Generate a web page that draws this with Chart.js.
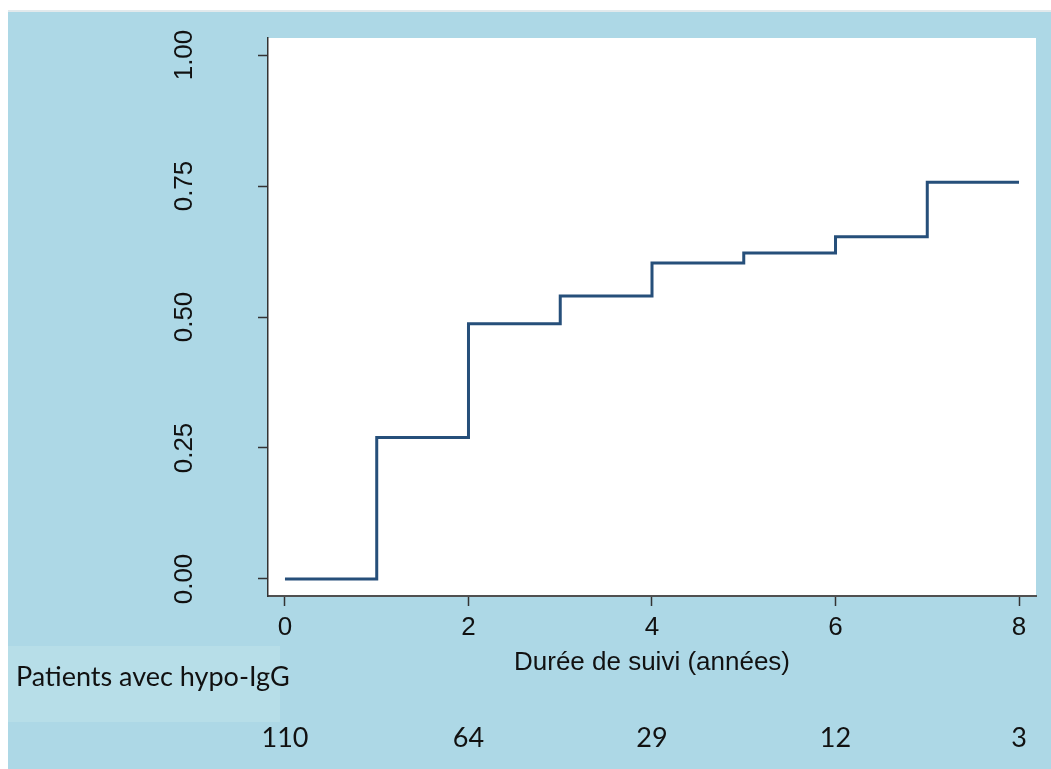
<!DOCTYPE html>
<html>
<head>
<meta charset="utf-8">
<script src="https://cdn.jsdelivr.net/npm/chart.js@4.4.1/dist/chart.umd.min.js"></script>
<style>
  html, body { margin: 0; padding: 0; background: #ffffff; }
  #wrap { width: 1051px; height: 769px; position: relative; }
</style>
</head>
<body>
<div id="wrap"><canvas id="kmChart"></canvas></div>
<script>
// données de la courbe (incidence cumulée)
const timePoints = [0, 1, 2, 3, 4, 5, 6, 7, 8];
const incidence = [0, 0.27, 0.487, 0.54, 0.603, 0.622, 0.653, 0.757, 0.757];

// ticks
const xTicks = [0, 2, 4, 6, 8];
const yTicks = [0, 0.25, 0.5, 0.75, 1];

// patients à risque
const riskLabel = 'Patients avec hypo-IgG';
const riskTimes = [0, 2, 4, 6, 8];
const atRisk = [110, 64, 29, 12, 3];

const axisFont = { family: '"Liberation Sans", Arial, sans-serif', size: 26 };

// fond bleu style Stata
const bgPlugin = {
    id: 'bg',
    beforeDraw(chart) {
        const { ctx, width, height, chartArea } = chart;
        ctx.save();
        ctx.fillStyle = '#ffffff';
        ctx.fillRect(0, 0, width, height);
        ctx.fillStyle = '#e2e9ec';
        ctx.fillRect(8, 10, width - 8, 2);
        ctx.fillStyle = '#add8e6';
        ctx.fillRect(8, 12, width - 8, height - 12);
        ctx.fillStyle = '#ffffff';
        ctx.fillRect(chartArea.left, chartArea.top, chartArea.right - chartArea.left, chartArea.bottom - chartArea.top);
        ctx.restore();
    }
};

// tableau des effectifs sous l'axe
const riskPlugin = {
    id: 'riskTable',
    afterDraw(chart) {
        const { ctx } = chart;
        const xs = chart.scales.x;
        ctx.save();
        ctx.fillStyle = '#b7dee8';
        ctx.fillRect(8, 646, 272, 76);
        ctx.fillStyle = '#111111';
        ctx.font = '27px Lato, "Open Sans", sans-serif';
        ctx.textBaseline = 'middle';
        ctx.textAlign = 'left';
        ctx.fillText(riskLabel, 16, 677);
        ctx.textAlign = 'center';
        atRisk.forEach((n, i) => {
            ctx.fillText(String(n), xs.getPixelForValue(riskTimes[i]), 738);
        });
        ctx.restore();
    }
};

new Chart(document.getElementById('kmChart'), {
    type: 'line',
    data: {
        datasets: [{
            data: timePoints.map((t, i) => ({ x: t, y: incidence[i] })),
            borderColor: '#264f7a',
            borderWidth: 3,
            stepped: true,
            pointRadius: 0,
            fill: false
        }]
    },
    options: {
        responsive: true,
        maintainAspectRatio: false,
        animation: false,
        layout: { padding: { left: 0, top: 38, right: 15, bottom: 0 } },
        plugins: {
            legend: { display: false },
            tooltip: { enabled: false }
        },
        scales: {
            x: {
                type: 'linear',
                min: -0.185,
                max: 8.185,
                afterBuildTicks: s => { s.ticks = xTicks.map(v => ({ value: v })); },
                afterFit: s => { s.height = 769 - 596; s.paddingLeft = 0; s.paddingRight = 0; },
                border: { color: '#505050', width: 2 },
                grid: { drawOnChartArea: false, drawTicks: true, tickLength: 10, tickColor: '#333333', tickWidth: 1.5 },
                ticks: { color: '#111111', font: axisFont, padding: 6, maxRotation: 0 },
                title: {
                    display: true,
                    text: 'Durée de suivi (années)',
                    color: '#111111',
                    font: axisFont,
                    padding: { top: 0, bottom: 91 }
                }
            },
            y: {
                min: -0.0325,
                max: 1.0325,
                afterBuildTicks: s => { s.ticks = yTicks.map(v => ({ value: v })); },
                afterFit: s => { s.width = 268; s.paddingTop = 0; s.paddingBottom = 0; },
                border: { color: '#333333', width: 1.5 },
                grid: { drawOnChartArea: false, drawTicks: true, tickLength: 10, tickColor: '#333333', tickWidth: 1.5 },
                ticks: {
                    color: '#111111',
                    font: axisFont,
                    minRotation: 90,
                    maxRotation: 90,
                    crossAlign: 'center',
                    padding: 48,
                    callback: v => Number(v).toFixed(2)
                }
            }
        }
    },
    plugins: [bgPlugin, riskPlugin]
});
</script>
</body>
</html>
